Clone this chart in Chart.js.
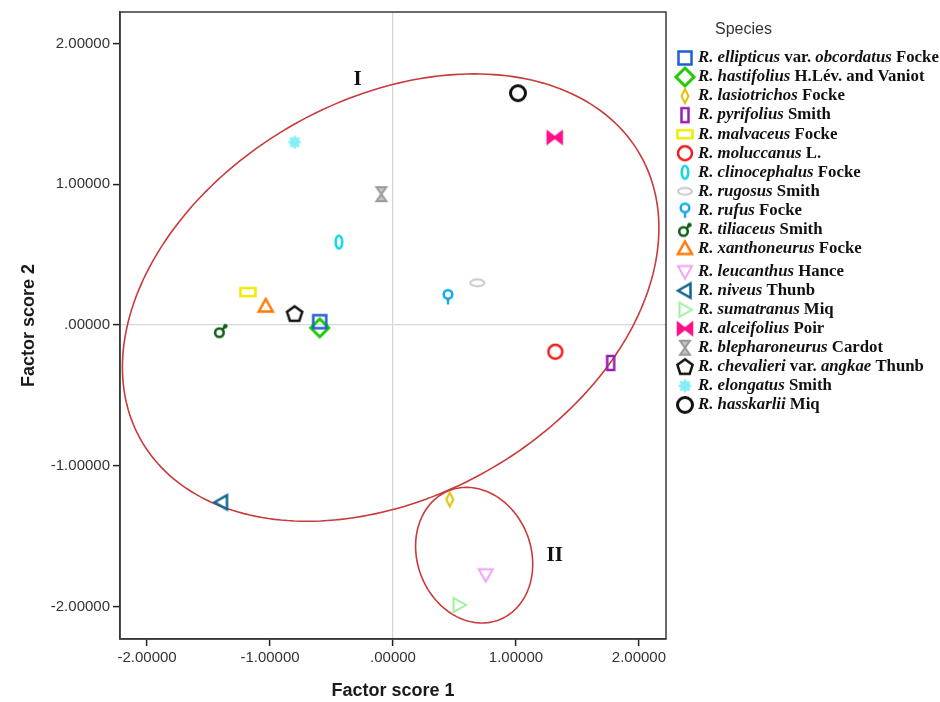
<!DOCTYPE html>
<html><head><meta charset="utf-8">
<script src="https://cdn.jsdelivr.net/npm/chart.js@4/dist/chart.umd.min.js"></script>
<style>html,body{margin:0;padding:0;background:#fff;}#wrap{width:940px;height:702px;}</style>
</head><body><div id="wrap"><canvas id="c" width="940" height="702"></canvas></div>
<script>
// ---- data ----
const species = [
 '*R. ellipticus* var. *obcordatus* Focke',
 '*R. hastifolius* H.Lév. and Vaniot',
 '*R. lasiotrichos* Focke',
 '*R. pyrifolius* Smith',
 '*R. malvaceus* Focke',
 '*R. moluccanus* L.',
 '*R. clinocephalus* Focke',
 '*R. rugosus* Smith',
 '*R. rufus* Focke',
 '*R. tiliaceus* Smith',
 '*R. xanthoneurus* Focke',
 '*R. leucanthus* Hance',
 '*R. niveus* Thunb',
 '*R. sumatranus* Miq',
 '*R. alceifolius* Poir',
 '*R. blepharoneurus* Cardot',
 '*R. chevalieri* var. *angkae* Thunb',
 '*R. elongatus* Smith',
 '*R. hasskarlii* Miq'
];
const factor1 = [-0.596, -0.596, 0.461, 1.77, -1.18, 1.32, -0.44, 0.686, 0.447, -1.40, -1.035, 0.754, -1.395, 0.537, 1.315, -0.095, -0.80, -0.80, 1.016];
const factor2 = [0.024, -0.02, -1.24, -0.27, 0.234, -0.19, 0.59, 0.30, 0.20, -0.04, 0.135, -1.775, -1.26, -1.99, 1.333, 0.93, 0.08, 1.30, 1.648];
const tickValues = [-2, -1, 0, 1, 2];
const groupLabels = ['I', 'II'];
const groupLabelX = [-0.287, 1.315];
const groupLabelY = [1.745, -1.638];
// group ellipses (centre and two conjugate semi-diameters, in score units)
const ellipseCX = [-0.019, 0.660];
const ellipseCY = [0.195, -1.636];
const ellipseUX = [0.679, -0.063];
const ellipseUY = [1.590, 0.482];
const ellipseVX = [2.073, 0.472];
const ellipseVY = [0, 0];

// ---- styles ----
const markerKinds = ['square','diamond','smallDiamond','tallRect','wideRect','circle','tallEllipse','wideEllipse','pin','male','triUp','triDown','triLeft','triRight','bowtie','hourglass','pentagon','star','bigCircle'];
const markerColors = ['#1f5fd6','#1ecc00','#e2c000','#9a1cb2','#f2ea00','#ee1c1c','#12d6ea','#c8c8c8','#18a8ee','#0b5e12','#ff7a00','#f0a2f6','#10658f','#9ff09f','#ff1088','#9a9a9a','#111111','#86eef8','#111111'];

function makeMarker(kind, color){
  const c = document.createElement('canvas'); c.width = 26; c.height = 26;
  const g = c.getContext('2d'); g.translate(13,13);
  g.strokeStyle = color; g.fillStyle = color; g.lineWidth = 2.5; g.lineJoin = 'miter';
  const poly = pts => { g.beginPath(); pts.forEach((p,i)=> i? g.lineTo(p[0],p[1]) : g.moveTo(p[0],p[1])); g.closePath(); };
  switch(kind){
    case 'square': g.strokeRect(-6.5,-6.5,13,13); break;
    case 'diamond': g.lineWidth=3; poly([[0,-9],[9,0],[0,9],[-9,0]]); g.stroke(); break;
    case 'smallDiamond': g.lineWidth=2; poly([[0,-7],[3.5,0],[0,7],[-3.5,0]]); g.stroke(); break;
    case 'tallRect': g.strokeRect(-3.5,-7,7,14); break;
    case 'wideRect': g.strokeRect(-7.5,-4,15,8); break;
    case 'circle': g.beginPath(); g.arc(0,0,7,0,Math.PI*2); g.stroke(); break;
    case 'tallEllipse': g.beginPath(); g.ellipse(0,0,3.3,6.5,0,0,Math.PI*2); g.stroke(); break;
    case 'wideEllipse': g.lineWidth=2; g.beginPath(); g.ellipse(0,0,7,3.5,0,0,Math.PI*2); g.stroke(); break;
    case 'pin': g.beginPath(); g.arc(0,-2.5,4.3,0,Math.PI*2); g.stroke(); g.beginPath(); g.moveTo(0,1.8); g.lineTo(0,7.5); g.stroke(); break;
    case 'male': g.beginPath(); g.arc(-1.5,2,4.3,0,Math.PI*2); g.stroke(); g.beginPath(); g.moveTo(1.5,-1); g.lineTo(4.5,-4.5); g.stroke(); g.beginPath(); g.arc(4.5,-4.5,2.2,0,Math.PI*2); g.fill(); break;
    case 'triUp': poly([[0,-7],[7,5.5],[-7,5.5]]); g.stroke(); break;
    case 'triDown': g.lineWidth=2; poly([[0,7],[7,-5.5],[-7,-5.5]]); g.stroke(); break;
    case 'triLeft': poly([[-7,0],[5.5,-7],[5.5,7]]); g.stroke(); break;
    case 'triRight': g.lineWidth=2; poly([[7,0],[-5.5,-7],[-5.5,7]]); g.stroke(); break;
    case 'bowtie': poly([[-7,-5.5],[0,0],[-7,5.5]]); g.fill(); g.stroke(); poly([[7,-5.5],[0,0],[7,5.5]]); g.fill(); g.stroke(); break;
    case 'hourglass': g.lineWidth=2; g.fillStyle='#c4c4c4'; poly([[-5,-7],[5,-7],[0,0]]); g.fill(); g.stroke(); poly([[-5,7],[5,7],[0,0]]); g.fill(); g.stroke(); break;
    case 'pentagon': { const pts=[]; for(let k=0;k<5;k++){const a=-Math.PI/2+k*2*Math.PI/5; pts.push([8*Math.cos(a),8*Math.sin(a)+0.5]);} poly(pts); g.stroke(); break; }
    case 'star': { const pts=[]; for(let k=0;k<16;k++){const a=-Math.PI/2+k*Math.PI/8; const r=k%2?4.8:7.2; pts.push([r*Math.cos(a),r*Math.sin(a)]);} poly(pts); g.fill(); break; }
    case 'bigCircle': g.lineWidth=3; g.beginPath(); g.arc(0,0,7.5,0,Math.PI*2); g.stroke(); break;
  }
  return c;
}
const markers = markerKinds.map((k,i)=>makeMarker(k, markerColors[i]));

const fmt = v => { const s = Number(v).toFixed(5); return s === '0.00000' ? '.00000' : s; };

const datasets = species.map((name,i)=>({
  label: name.replace(/\*/g,''),
  data: [{x: factor1[i], y: factor2[i]}],
  pointStyle: markers[i],
  pointRadius: 8,
  pointHoverRadius: 8
}));

const sansFont = "'Liberation Sans', Arial, sans-serif";
const serifFont = "'Liberation Serif', 'Times New Roman', serif";

const decorPlugin = {
  id: 'decor',
  beforeDatasetsDraw(chart){
    const g = chart.ctx, xs = chart.scales.x, ys = chart.scales.y;
    g.save();
    g.strokeStyle = '#c93a3a'; g.lineWidth = 1.6;
    for(let i=0;i<ellipseCX.length;i++){
      g.beginPath();
      for(let k=0;k<=240;k++){
        const t = k/240*Math.PI*2;
        const dx = ellipseCX[i] + ellipseUX[i]*Math.cos(t) + ellipseVX[i]*Math.sin(t);
        const dy = ellipseCY[i] + ellipseUY[i]*Math.cos(t) + ellipseVY[i]*Math.sin(t);
        const px = xs.getPixelForValue(dx), py = ys.getPixelForValue(dy);
        k ? g.lineTo(px,py) : g.moveTo(px,py);
      }
      g.closePath(); g.stroke();
    }
    g.fillStyle = '#111'; g.font = 'bold 21px ' + serifFont; g.textAlign = 'center'; g.textBaseline = 'middle';
    groupLabels.forEach((t,i)=> g.fillText(t, xs.getPixelForValue(groupLabelX[i]), ys.getPixelForValue(groupLabelY[i])));
    g.restore();
  },
  afterDraw(chart){
    const g = chart.ctx, a = chart.chartArea;
    g.save();
    g.strokeStyle = '#3a3a3a'; g.lineWidth = 1.5;
    g.strokeRect(a.left, a.top, a.right - a.left, a.bottom - a.top);
    // legend
    g.fillStyle = '#333'; g.font = '16px ' + sansFont; g.textBaseline = 'middle'; g.textAlign = 'left';
    g.fillText('Species', 715, 30);
    species.forEach((name,i)=>{
      const y = 58 + i*19.05 + (i>=11 ? 4 : 0);
      const m = markers[i];
      g.drawImage(m, 685 - m.width/2, y - m.height/2);
      let x = 698;
      name.split('*').forEach((seg,j)=>{
        if(!seg) return;
        g.font = (j%2 ? 'italic bold ' : 'bold ') + '16.8px ' + serifFont;
        g.fillStyle = '#111';
        g.fillText(seg, x, y);
        x += g.measureText(seg).width;
      });
    });
    g.restore();
  }
};

const axisCommon = (title, isX) => ({
  type: 'linear',
  min: isX ? -2.22 : -2.232,
  max: isX ? 2.22 : 2.225,
  afterBuildTicks: s => { s.ticks = tickValues.map(v=>({value:v})); },
  afterFit: s => { if(isX) s.height = 63; else s.width = 120; },
  ticks: { callback: v => fmt(v), font: {family: sansFont, size: 15}, color: '#333', padding: 3, autoSkip: false, maxRotation: 0 },
  grid: {
    color: c => (c.tick && c.tick.value === 0) ? '#d6d6d6' : 'rgba(0,0,0,0)',
    lineWidth: 1.2, drawTicks: true, tickLength: 7, tickColor: '#222', tickWidth: 1.5
  },
  border: { display: true, color: '#333', width: 1.5 },
  title: { display: true, text: title, color: '#1a1a1a', font: {family: sansFont, size: 18, weight: 'bold'}, padding: isX ? {top: 4, bottom: 0} : {top: 18, bottom: 4} }
});

new Chart(document.getElementById('c'), {
  type: 'scatter',
  data: { datasets },
  options: {
    responsive: false, animation: false, devicePixelRatio: 1,
    layout: { padding: { left: 0, right: 274, top: 10, bottom: 0 } },
    plugins: { legend: { display: false }, tooltip: { enabled: false } },
    scales: { x: axisCommon('Factor score 1', true), y: axisCommon('Factor score 2', false) }
  },
  plugins: [decorPlugin]
});
</script></body></html>
